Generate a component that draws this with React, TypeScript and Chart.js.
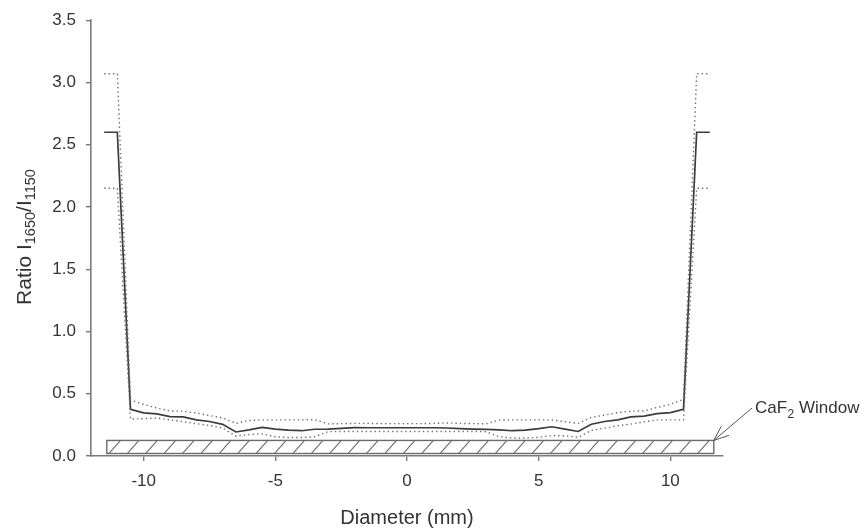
import React, { useEffect, useRef } from "react";
import { Chart, registerables } from "chart.js";

Chart.register(...registerables);

// Diameter positions (mm)
const X_VALUES = [
  -11.5, -11, -10.5, -10, -9.5, -9, -8.5, -8, -7.5, -7, -6.5, -6, -5.5, -5, -4.5, -4,
  -3.5, -3, -2.5, -2, -1.5, -1, -0.5, 0, 0.5, 1, 1.5, 2, 2.5, 3, 3.5, 4, 4.5, 5, 5.5,
  6, 6.5, 7, 7.5, 8, 8.5, 9, 9.5, 10, 10.5, 11, 11.5,
];
// Mean ratio I1650/I1150
const MEAN = [
  2.6, 2.6, 0.375, 0.347, 0.338, 0.316, 0.314, 0.29, 0.277, 0.254, 0.193, 0.21, 0.23,
  0.216, 0.208, 0.203, 0.215, 0.216, 0.222, 0.228, 0.227, 0.227, 0.227, 0.227, 0.227,
  0.227, 0.225, 0.22, 0.216, 0.214, 0.21, 0.203, 0.208, 0.22, 0.235, 0.216, 0.197,
  0.255, 0.277, 0.29, 0.314, 0.32, 0.34, 0.348, 0.375, 2.6, 2.6,
];
// Upper bound (dotted)
const UPPER = [
  3.07, 3.07, 0.45, 0.415, 0.385, 0.362, 0.36, 0.345, 0.325, 0.305, 0.262, 0.285,
  0.29, 0.29, 0.29, 0.29, 0.292, 0.258, 0.26, 0.262, 0.262, 0.26, 0.26, 0.26, 0.26,
  0.262, 0.265, 0.262, 0.26, 0.258, 0.288, 0.29, 0.29, 0.29, 0.29, 0.275, 0.262,
  0.31, 0.328, 0.348, 0.36, 0.362, 0.39, 0.415, 0.455, 3.07, 3.07,
];
// Lower bound (dotted)
const LOWER = [
  2.15, 2.15, 0.296, 0.3, 0.305, 0.29, 0.275, 0.26, 0.245, 0.225, 0.16, 0.172, 0.178,
  0.155, 0.148, 0.148, 0.155, 0.195, 0.197, 0.197, 0.197, 0.197, 0.197, 0.197, 0.197,
  0.197, 0.197, 0.197, 0.197, 0.195, 0.155, 0.145, 0.145, 0.15, 0.163, 0.163, 0.15,
  0.205, 0.224, 0.243, 0.256, 0.274, 0.29, 0.29, 0.29, 2.15, 2.15,
];

const X_TICKS = [-10, -5, 0, 5, 10];
const Y_TICKS = [0, 0.5, 1.0, 1.5, 2.0, 2.5, 3.0, 3.5];
const WINDOW_X = [-11.4, 11.65];
const WINDOW_Y = [0.02, 0.125];
const WINDOW_LABEL = ["CaF", "2", " Window"];
const Y_TITLE = ["Ratio I", "1650", "/I", "1150"];
const X_TITLE = "Diameter (mm)";

const FONT = "'Liberation Sans', Arial, Helvetica, sans-serif";
const TEXT = "#333333";
const AXIS = "#7a7a7a";

const overlay = {
  id: "overlay",
  afterDatasetsDraw(chart: any) {
    const ctx = chart.ctx as CanvasRenderingContext2D;
    const xs = chart.scales.x;
    const ys = chart.scales.y;
    // CaF2 window hatched rectangle
    const x0 = xs.getPixelForValue(WINDOW_X[0]);
    const x1 = xs.getPixelForValue(WINDOW_X[1]);
    const yTop = ys.getPixelForValue(WINDOW_Y[1]);
    const yBot = ys.getPixelForValue(WINDOW_Y[0]);
    ctx.save();
    ctx.beginPath();
    ctx.rect(x0, yTop, x1 - x0, yBot - yTop);
    ctx.clip();
    ctx.strokeStyle = "#6a6a6a";
    ctx.lineWidth = 1.1;
    const h = yBot - yTop;
    for (let x = x0 + 2; x < x1 + h; x += 18.4) {
      ctx.beginPath();
      ctx.moveTo(x, yBot);
      ctx.lineTo(x + h * 0.9, yTop);
      ctx.stroke();
    }
    ctx.restore();
    ctx.save();
    ctx.strokeStyle = "#6a6a6a";
    ctx.lineWidth = 1.4;
    ctx.strokeRect(x0, yTop, x1 - x0, yBot - yTop);
    ctx.restore();

    // arrow
    ctx.save();
    const tipX = x1;
    const tipY = yTop;
    const sX = 752;
    const sY = 408;
    ctx.strokeStyle = "#555";
    ctx.lineWidth = 1;
    ctx.beginPath();
    ctx.moveTo(sX, sY);
    ctx.lineTo(tipX, tipY);
    const ang = Math.atan2(sY - tipY, sX - tipX);
    const len = 16;
    for (const d of [-0.38, 0.38]) {
      ctx.moveTo(tipX, tipY);
      ctx.lineTo(tipX + len * Math.cos(ang + d), tipY + len * Math.sin(ang + d));
    }
    ctx.stroke();
    ctx.restore();

    // label
    ctx.save();
    ctx.fillStyle = TEXT;
    ctx.textBaseline = "alphabetic";
    ctx.textAlign = "left";
    let tx = 755;
    const base = 413;
    ctx.font = `17px ${FONT}`;
    ctx.fillText(WINDOW_LABEL[0], tx, base);
    tx += ctx.measureText(WINDOW_LABEL[0]).width;
    ctx.font = `12px ${FONT}`;
    ctx.fillText(WINDOW_LABEL[1], tx + 0.5, base + 5);
    tx += ctx.measureText(WINDOW_LABEL[1]).width + 0.5;
    ctx.font = `17px ${FONT}`;
    ctx.fillText(WINDOW_LABEL[2], tx, base);
    ctx.restore();

    // Y title
    ctx.save();
    ctx.translate(31, 237);
    ctx.rotate(-Math.PI / 2);
    ctx.fillStyle = TEXT;
    ctx.textBaseline = "alphabetic";
    ctx.textAlign = "left";
    const sizes = [21, 14.5, 21, 14.5];
    const offs = [0, 4, 0, 4];
    let total = 0;
    const widths: number[] = [];
    Y_TITLE.forEach((s, i) => {
      ctx.font = `${sizes[i]}px ${FONT}`;
      const w = ctx.measureText(s).width;
      widths.push(w);
      total += w;
    });
    let px = -total / 2;
    Y_TITLE.forEach((s, i) => {
      ctx.font = `${sizes[i]}px ${FONT}`;
      ctx.fillText(s, px, offs[i]);
      px += widths[i];
    });
    ctx.restore();

    // X title
    ctx.save();
    ctx.fillStyle = TEXT;
    ctx.font = `20px ${FONT}`;
    ctx.textAlign = "center";
    ctx.textBaseline = "alphabetic";
    ctx.fillText(X_TITLE, xs.getPixelForValue(0), 524);
    ctx.restore();
  },
};

export default function App() {
  const ref = useRef<HTMLCanvasElement | null>(null);
  useEffect(() => {
    document.body.style.margin = "0";
    const canvas = ref.current;
    if (!canvas) return;
    const toPts = (arr: number[]) => X_VALUES.map((x, i) => ({ x, y: arr[i] }));
    const chart = new Chart(canvas, {
      type: "line",
      data: {
        datasets: [
          {
            data: toPts(UPPER),
            borderColor: "#6e6e6e",
            borderWidth: 1.4,
            borderDash: [1.4, 3],
            pointRadius: 0,
            tension: 0,
            fill: false,
          },
          {
            data: toPts(LOWER),
            borderColor: "#6e6e6e",
            borderWidth: 1.4,
            borderDash: [1.4, 3],
            pointRadius: 0,
            tension: 0,
            fill: false,
          },
          {
            data: toPts(MEAN),
            borderColor: "#3c3c3c",
            borderWidth: 1.7,
            pointRadius: 0,
            tension: 0,
            fill: false,
          },
        ],
      },
      plugins: [overlay],
      options: {
        animation: false,
        responsive: false,
        devicePixelRatio: 1,
        layout: { padding: { top: 16, right: 139, left: 0, bottom: 0 } },
        plugins: { legend: { display: false }, tooltip: { enabled: false } },
        scales: {
          x: {
            type: "linear",
            min: -12,
            max: 12,
            afterBuildTicks: (scale: any) => {
              scale.ticks = X_TICKS.map((v) => ({ value: v }));
            },
            afterFit: (scale: any) => {
              scale.height = 74;
            },
            grid: {
              display: true,
              drawOnChartArea: false,
              drawTicks: true,
              tickLength: 5,
              color: AXIS,
              lineWidth: 1.4,
            },
            border: { display: true, color: AXIS, width: 1.6 },
            ticks: {
              color: TEXT,
              font: { family: FONT, size: 17 },
              padding: 10,
              maxRotation: 0,
              callback: (v: any) => String(v),
            },
          },
          y: {
            type: "linear",
            min: 0,
            max: 3.5,
            afterBuildTicks: (scale: any) => {
              scale.ticks = Y_TICKS.map((v) => ({ value: v }));
            },
            afterFit: (scale: any) => {
              scale.width = 91;
            },
            grid: {
              display: true,
              drawOnChartArea: false,
              drawTicks: true,
              tickLength: 5,
              color: AXIS,
              lineWidth: 1.4,
            },
            border: { display: true, color: AXIS, width: 1.6 },
            ticks: {
              color: TEXT,
              font: { family: FONT, size: 17 },
              padding: 10,
              callback: (v: any) => Number(v).toFixed(1),
            },
          },
        },
      },
    } as any);
    return () => chart.destroy();
  }, []);
  return (
    <div style={{ width: 862, height: 530, background: "#ffffff" }}>
      <canvas ref={ref} width={862} height={530} />
    </div>
  );
}
